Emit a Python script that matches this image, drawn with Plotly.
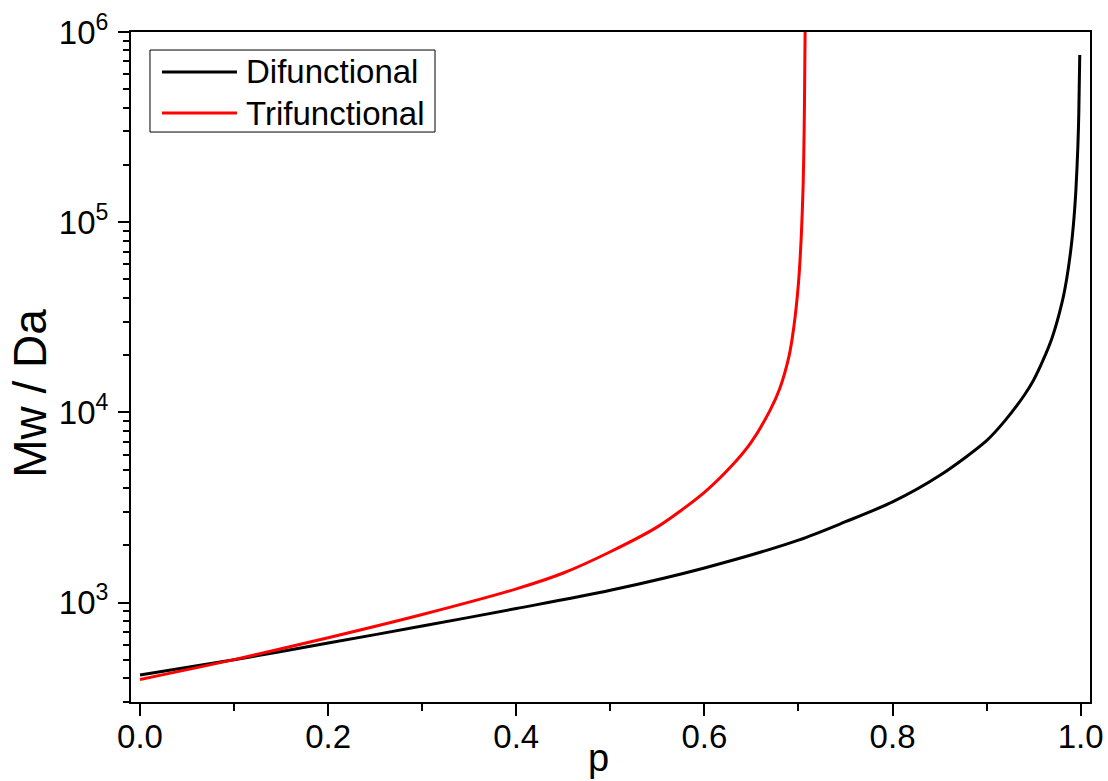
import plotly.graph_objects as go

# Difunctional (black)
p_di = [0.0, 0.1, 0.2, 0.3, 0.4, 0.5, 0.6, 0.7, 0.75, 0.8, 0.85, 0.9,
        0.92, 0.94, 0.95, 0.96, 0.97, 0.98, 0.985, 0.99, 0.993, 0.995,
        0.997, 0.998, 0.999]
mw_di = [416, 500, 612, 752, 930, 1160, 1520, 2130, 2660, 3380, 4650, 7100,
         9100, 12300, 14800, 18800, 25000, 37500, 50000, 75000, 107000, 150000,
         250000, 375000, 757000]

# Trifunctional (red)
p_tri = [0.0, 0.1, 0.2, 0.3, 0.4, 0.45, 0.5, 0.55, 0.6, 0.63, 0.65, 0.67,
         0.68, 0.69, 0.695, 0.7, 0.703, 0.705, 0.706, 0.7065, 0.7071]
mw_tri = [394, 501, 653, 865, 1180, 1430, 1850, 2500, 3800, 5300, 7000, 10300,
          13300, 19800, 28000, 48000, 85000, 160000, 300000, 500000, 1100000]

x_ticks = [0.0, 0.2, 0.4, 0.6, 0.8, 1.0]
x_tick_text = ["0.0", "0.2", "0.4", "0.6", "0.8", "1.0"]
x_minor = [0.1, 0.3, 0.5, 0.7, 0.9]
y_ticks = [1e3, 1e4, 1e5, 1e6]
y_tick_text = ["10<sup>3</sup>", "10<sup>4</sup>", "10<sup>5</sup>", "10<sup>6</sup>"]
y_minor = [m * d for d in (1e2, 1e3, 1e4, 1e5) for m in range(2, 10)]

series_names = ["Difunctional", "Trifunctional"]
series_colors = ["black", "#ff0000"]
x_title = "p"
y_title = "Mw / Da"

FONT = "Liberation Sans, Arial, sans-serif"

fig = go.Figure()
for name, xs, ys, col in zip(series_names, [p_di, p_tri], [mw_di, mw_tri], series_colors):
    fig.add_trace(go.Scatter(x=xs, y=ys, mode="lines", name=name, showlegend=False,
                             line=dict(color=col, width=3, shape="spline", smoothing=0.8)))

# legend drawn as a framed box with line samples and labels
lx0, lx1, ly0, ly1 = 0.0198, 0.317, 0.8507, 0.9731
rows_y = [0.9403, 0.8791]
fig.add_shape(type="rect", xref="paper", yref="paper", x0=lx0, x1=lx1, y0=ly0, y1=ly1,
              line=dict(color="black", width=1), fillcolor="white", layer="above")
for name, col, ry in zip(series_names, series_colors, rows_y):
    fig.add_shape(type="line", xref="paper", yref="paper", x0=0.0323, x1=0.1105,
                  y0=ry, y1=ry, line=dict(color=col, width=3), layer="above")
    fig.add_annotation(xref="paper", yref="paper", x=0.118, y=ry, text=name,
                       showarrow=False, xanchor="left", yanchor="middle",
                       font=dict(size=33, family=FONT, color="black"))

# axis titles
fig.add_annotation(xref="paper", yref="paper", x=0.487, y=-0.0835, text=x_title,
                   showarrow=False, xanchor="center", yanchor="middle",
                   font=dict(size=38, family=FONT, color="black"))
fig.add_annotation(xref="paper", yref="paper", x=-0.1053, y=0.46, text=y_title,
                   showarrow=False, xanchor="center", yanchor="middle", textangle=-90,
                   font=dict(size=46, family=FONT, color="black"))

fig.update_layout(
    width=1108, height=781,
    margin=dict(l=131, r=18, t=32, b=79),
    paper_bgcolor="white", plot_bgcolor="white",
    font=dict(family=FONT, color="black", size=33),
    showlegend=False,
    xaxis=dict(range=[-0.0096, 1.0099], tickmode="array", tickvals=x_ticks,
               ticktext=x_tick_text, ticks="outside", ticklen=12, tickwidth=2,
               tickcolor="black", showline=True, linewidth=2, linecolor="black",
               mirror=True, showgrid=False, zeroline=False, automargin=False,
               tickfont=dict(size=33), ticklabelstandoff=-8,
               minor=dict(tickmode="array", tickvals=x_minor, ticks="outside",
                          ticklen=7, tickwidth=2, tickcolor="black", showgrid=False)),
    yaxis=dict(type="log", range=[2.477, 6.0], tickmode="array", tickvals=y_ticks,
               ticktext=y_tick_text, ticks="outside", ticklen=11, tickwidth=2,
               tickcolor="black", showline=True, linewidth=2, linecolor="black",
               mirror=True, showgrid=False, zeroline=False, automargin=False,
               tickfont=dict(size=33), ticklabelstandoff=3,
               minor=dict(tickmode="array", tickvals=y_minor, ticks="outside",
                          ticklen=6, tickwidth=2, tickcolor="black", showgrid=False)),
)

fig.write_html("out.html")
